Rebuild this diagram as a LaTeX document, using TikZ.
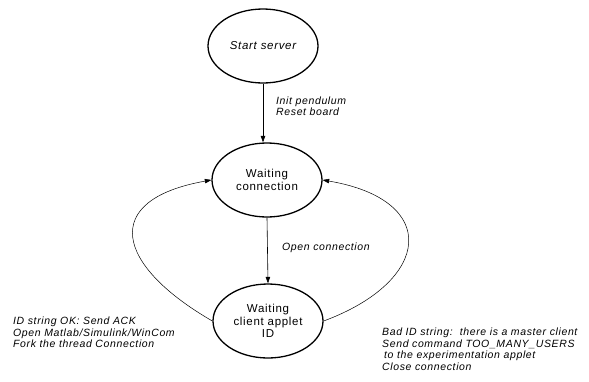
\documentclass[tikz,border=0pt]{standalone}
\usepackage{fontspec}
\setmainfont{Liberation Sans}
\newfontfamily\diagfont[LetterSpace=6]{Liberation Sans}
\usetikzlibrary{arrows.meta,positioning,shapes.geometric}
\tikzset{
  statenode/.style={ellipse, draw, line width=1.3pt, minimum width=110pt, minimum height=74pt,
    inner sep=0pt, align=center, font=\diagfont\fontsize{11.5}{12.5}\selectfont},
  transln/.style={-{Triangle[length=6.5pt,width=4.5pt]}, line width=0.6pt},
  loopln/.style={-{Triangle[length=6.5pt,width=4.5pt]}, line width=0.5pt},
  edgelbl/.style={font=\diagfont\itshape\fontsize{10.5}{11.5}\selectfont, align=left, inner sep=0pt},
}

\begin{document}
\begin{tikzpicture}[x=1pt,y=-1pt]
    \useasboundingbox (0,0) rectangle (589,381);
    % the three states of the server
    \node[statenode] (start) at (263,46) {\itshape Start server};
    \node[statenode] (wait) at (267,180) {Waiting\\connection};
    \node[statenode] (client) at (268,321) {Waiting\\client applet\\ID};
    % straight transitions
    \draw[transln] (start.south) -- (start.south |- wait.north);
    \draw[transln] (wait.south) -- (client.north);
    \node[edgelbl, anchor=west] (lblinit) at (276,106) {Init pendulum\\Reset board};
    \node[edgelbl, anchor=west] (lblopen) at (282,248) {Open connection};
    % loops back to the waiting state
    \draw[loopln] (client.west) .. controls +(-97,-56) and +(-112,20) .. (wait.west);
    \draw[loopln] (client.east) .. controls +(108,-40) and +(118,20) .. (wait.east);
    \node[edgelbl, anchor=north west] (lblok) at (13,317)
      {ID string OK: Send ACK\\Open Matlab/Simulink/WinCom\\Fork the thread Connection};
    \node[edgelbl, anchor=north west] (lblbad) at (382,328)
      {Bad ID string:\ \ there is a master client\\Send command TOO\_MANY\_USERS\\
       \hspace{2pt}to the experimentation applet\\Close connection};
\end{tikzpicture}
\end{document}
